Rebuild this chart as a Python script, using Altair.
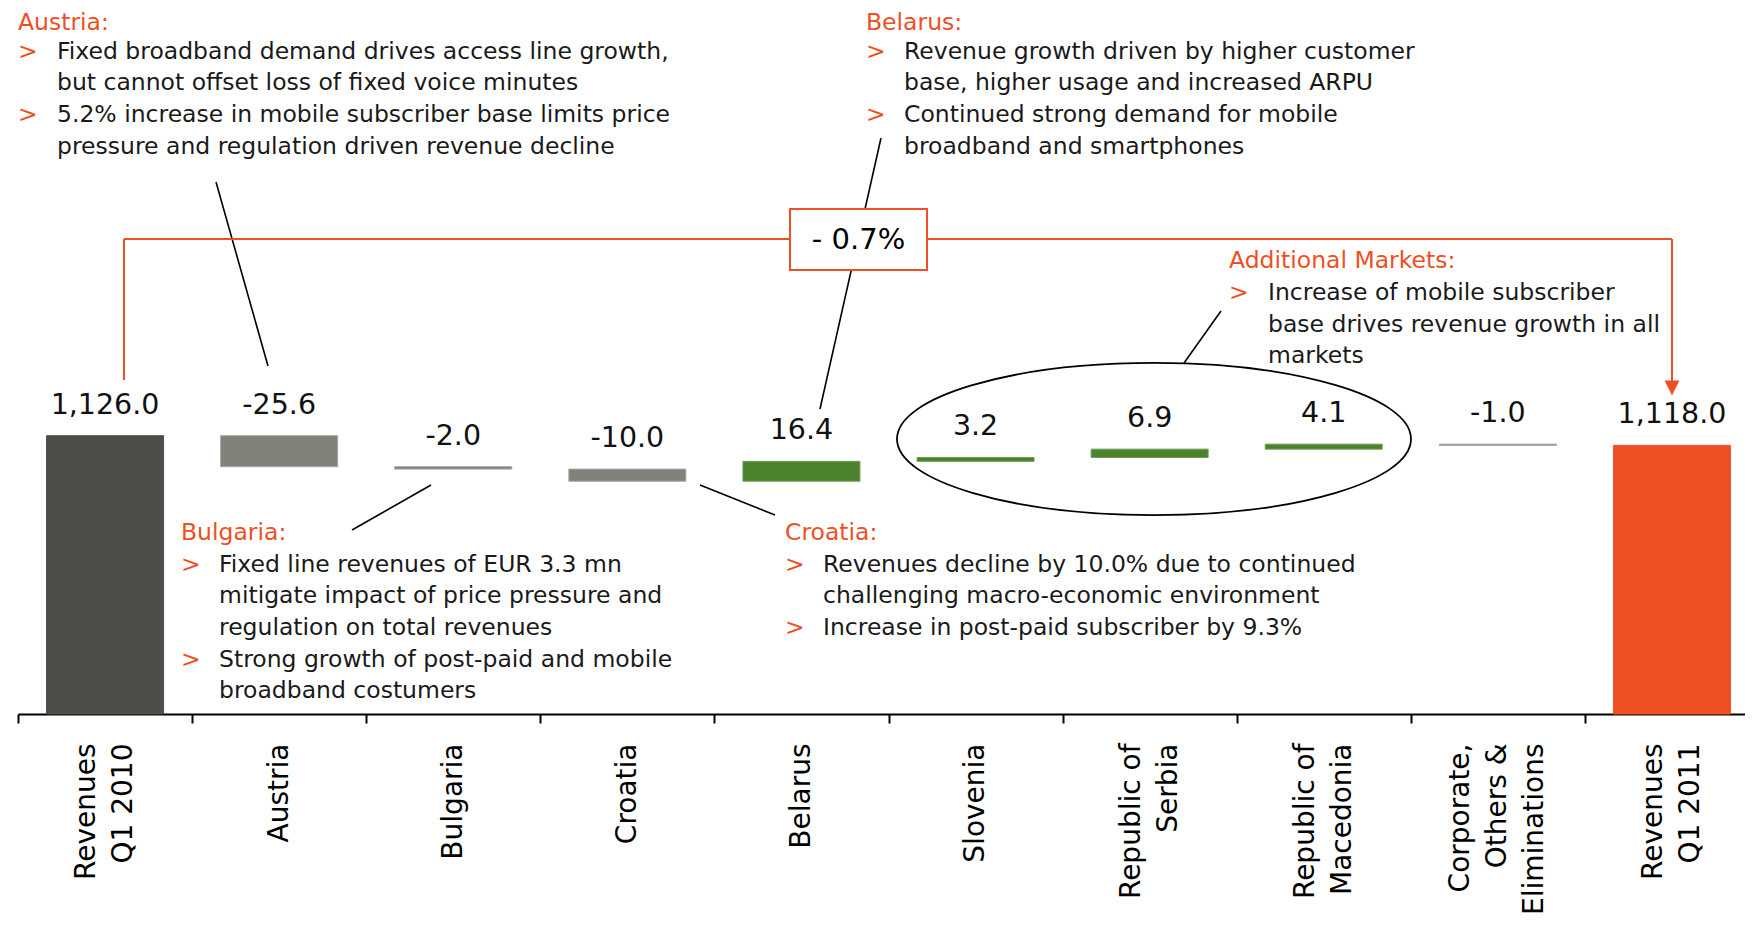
import altair as alt
import pandas as pd

# ---------------- data ----------------
categories = ["Revenues\nQ1 2010", "Austria", "Bulgaria", "Croatia", "Belarus", "Slovenia",
              "Republic of\nSerbia", "Republic of\nMacedonia",
              "Corporate,\nOthers &\nEliminations", "Revenues\nQ1 2011"]
values = [1126.0, -25.6, -2.0, -10.0, 16.4, 3.2, 6.9, 4.1, -1.0, 1118.0]
kinds = ["start", "neg", "neg", "neg", "pos", "pos", "pos", "pos", "neg", "end"]
change_label = "- 0.7%"

austria_head = "Austria:"
austria_lines = [["Fixed broadband demand drives access line growth,",
                  "but cannot offset loss of fixed voice minutes"],
                 ["5.2% increase in mobile subscriber base limits price",
                  "pressure and regulation driven revenue decline"]]
belarus_head = "Belarus:"
belarus_lines = [["Revenue growth driven by higher customer",
                  "base, higher usage and increased ARPU"],
                 ["Continued strong demand for mobile",
                  "broadband and smartphones"]]
addm_head = "Additional Markets:"
addm_lines = [["Increase of mobile subscriber",
               "base drives revenue growth in all",
               "markets"]]
bulgaria_head = "Bulgaria:"
bulgaria_lines = [["Fixed line revenues of EUR 3.3 mn",
                   "mitigate impact of price pressure and",
                   "regulation on total revenues"],
                  ["Strong growth of post-paid and mobile",
                   "broadband costumers"]]
croatia_head = "Croatia:"
croatia_lines = [["Revenues decline by 10.0% due to continued",
                  "challenging macro-economic environment"],
                 ["Increase in post-paid subscriber by 9.3%"]]

# ---------------- style ----------------
FONT = "DejaVu Sans"
ORANGE = "#EE5024"
TXT = "#1a1a1a"
kind_domain = ["start", "neg", "pos", "end"]
kind_fill = ["#4e4e49", "#80827a", "#4b832d", "#EE5024"]
kind_stroke = ["#4e4e49", "#a3a59f", "#6e9c55", "#EE5024"]

BASE = 896.0            # broken-axis baseline
PX_PER_UNIT = 1.21
PLOT_H = 706
PLOT_W = 1727
RANGE_W = 1741
OX, OY = 18, 8          # page position of the plot origin
TOP = BASE + PLOT_H / PX_PER_UNIT
LH = 31.7
BODY = 23.5
AX_LH = 37

# ---------------- waterfall table ----------------
starts, ends = [], []
running = 0.0
for v, k in zip(values, kinds):
    if k in ("start", "end"):
        starts.append(BASE)
        ends.append(v)
        running = v
    else:
        starts.append(running)
        running = running + v
        ends.append(running)

df = pd.DataFrame({
    "cat": categories,
    "value": values,
    "kind": kinds,
    "start": starts,
    "end": ends,
})
df["top"] = df[["start", "end"]].max(axis=1)
df["label"] = [f"{v:,.1f}" for v in values]

label_offset = {
    "condition": [
        {"test": "length(split(datum.label, '\\n')) == 3", "value": -AX_LH},
        {"test": "length(split(datum.label, '\\n')) == 2", "value": -AX_LH / 2},
    ],
    "value": 0,
}

xaxis = alt.Axis(title=None, labelAngle=-90, labelAlign="right", labelBaseline="middle",
                 labelFont=FONT, labelFontSize=28, labelColor="black", labelLineHeight=AX_LH,
                 labelPadding=20, labelLimit=500, labelOverlap=False,
                 labelExpr="split(datum.label, '\\n')", labelOffset=label_offset,
                 domainColor="black", domainWidth=2, tickColor="black", tickWidth=2,
                 tickSize=9, tickBand="extent")
xscale = alt.Scale(domain=categories, range=[0, RANGE_W], paddingInner=0, paddingOuter=0)
yscale = alt.Scale(domain=[BASE, TOP], zero=False, nice=False)

X = alt.X("cat:N", scale=xscale, axis=xaxis, sort=categories)

bars = alt.Chart(df).mark_bar(strokeWidth=1, width=alt.RelativeBandSize(0.672)).encode(
    x=X,
    y=alt.Y("start:Q", scale=yscale, axis=None),
    y2="end:Q",
    color=alt.Color("kind:N", scale=alt.Scale(domain=kind_domain, range=kind_fill), legend=None),
    stroke=alt.Stroke("kind:N", scale=alt.Scale(domain=kind_domain, range=kind_stroke), legend=None),
)

labels = alt.Chart(df).mark_text(font=FONT, fontSize=28.5, color="#111111", baseline="middle",
                                 align="center", dy=-31).encode(
    x=X,
    y=alt.Y("top:Q", scale=yscale, axis=None),
    text="label:N",
)

one = pd.DataFrame({"k": [0]})


def px(x):
    return x - OX


def py(y):
    return y - OY


def text_layer(x, y, lines, color, size=BODY, align="left", baseline="alphabetic", weight="normal"):
    return alt.Chart(one).mark_text(align=align, baseline=baseline, font=FONT, fontSize=size,
                                    color=color, lineHeight=LH, fontWeight=weight).encode(
        x=alt.value(px(x)), y=alt.value(py(y)), text=alt.value(lines))


def rule(x1, y1, x2, y2, color="black", width=1.6):
    return alt.Chart(one).mark_rule(color=color, strokeWidth=width).encode(
        x=alt.value(px(x1)), y=alt.value(py(y1)), x2=alt.value(px(x2)), y2=alt.value(py(y2)))


def block(head, groups, x_head, x_text, y_head, head_shift=0):
    layers = [text_layer(x_head, y_head + head_shift, head, ORANGE)]
    body = []
    n = 0
    for g in groups:
        layers.append(text_layer(x_head, y_head + LH * (n + 1), ">", ORANGE))
        for line in g:
            body.append(line)
            n += 1
    layers.append(text_layer(x_text, y_head + LH, body, TXT))
    return layers


deco = []
# callout lines
deco.append(rule(216, 182, 268, 366))
deco.append(rule(352, 530, 431, 485))
deco.append(rule(700, 485, 775, 515))
deco.append(rule(881, 138, 820, 409))
deco.append(rule(1221, 311, 1184, 363))

# bracket showing total change
deco.append(rule(124, 239, 124, 380, ORANGE, 2))
deco.append(rule(124, 239, 1672, 239, ORANGE, 2))
deco.append(rule(1672, 239, 1672, 383, ORANGE, 2))
deco.append(alt.Chart(one).mark_point(shape="M -1 -1 L 1 -1 L 0 1 Z", filled=True, color=ORANGE,
                                      size=225, opacity=1).encode(
    x=alt.value(px(1672)), y=alt.value(py(388))))
deco.append(alt.Chart(one).mark_rect(fill="white", stroke=ORANGE, strokeWidth=2).encode(
    x=alt.value(px(790)), x2=alt.value(px(927)), y=alt.value(py(209)), y2=alt.value(py(270))))
deco.append(text_layer(858.5, 240, change_label, "black", size=29, align="center",
                       baseline="middle"))

# ellipse around the additional markets
ELLIPSE = ("M -1 0 C -1 -0.1635 -0.5523 -0.296 0 -0.296 C 0.5523 -0.296 1 -0.1635 1 0 "
           "C 1 0.1635 0.5523 0.296 0 0.296 C -0.5523 0.296 -1 0.1635 -1 0 Z")
deco.append(alt.Chart(one).mark_point(shape=ELLIPSE, filled=False, color="black", strokeWidth=1.8,
                                      size=(2 * 257) ** 2, opacity=1).encode(
    x=alt.value(px(1154)), y=alt.value(py(439))))

notes = []
notes += block(austria_head, austria_lines, 18, 57, 27, head_shift=3)
notes += block(belarus_head, belarus_lines, 866, 904, 27, head_shift=3)
notes += block(addm_head, addm_lines, 1229, 1268, 268.3)
notes += block(bulgaria_head, bulgaria_lines, 181, 219, 540)
notes += block(croatia_head, croatia_lines, 785, 823, 540)

chart = alt.layer(bars, labels, *deco, *notes).properties(
    width=PLOT_W, height=PLOT_H,
    autosize=alt.AutoSizeParams(type="none"),
    padding={"left": 10, "top": 0, "right": 0, "bottom": 204},
).configure_view(stroke=None)

chart.save("out.html", embed_options={"renderer": "svg", "actions": False})
